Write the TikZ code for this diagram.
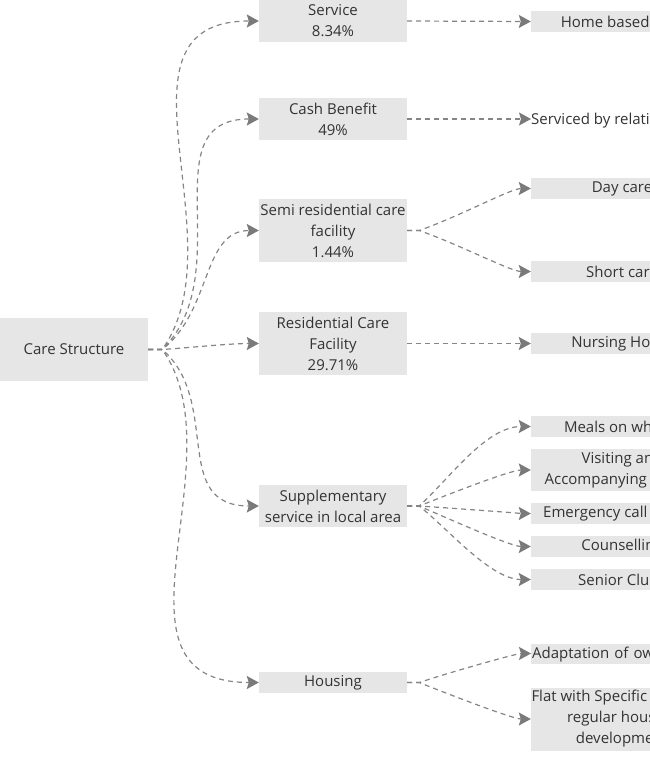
\documentclass[tikz,border=0pt]{standalone}
\usepackage{fontspec}
\setmainfont{Open Sans}
\usetikzlibrary{arrows.meta}
\definecolor{boxgray}{HTML}{E6E6E6}
\definecolor{linkgray}{HTML}{858585}
\definecolor{tipgray}{HTML}{7A7A7A}
\definecolor{inkgray}{HTML}{333333}
\tikzset{>={Stealth[length=12pt,width=13pt,inset=2pt,color=tipgray]}}

\begin{document}
\begin{tikzpicture}[x=1pt,y=-1pt,
bare/.style = {
    text=inkgray, inner sep=0pt, align=center,
    font=\fontsize{15}{21}\selectfont,
                },
box/.style = {
    bare, fill=boxgray, minimum width=148pt,
                },
leaf/.style = {
    box, minimum width=182pt,
                },
link/.style = {
    ->, draw=linkgray, line width=1.2pt,
    dash pattern=on 5pt off 4pt,
                },
                    ]
\useasboundingbox (0,0) rectangle (650,771);
\clip (0,0) rectangle (650,771);
% root
\node (root) [box, minimum height=63pt] at (74,349.5) {Care Structure};
% first level
\node (svc)  [box, minimum height=42pt] at (333,21)    {Service\\8.34\%};
\node (cash) [box, minimum height=42pt] at (333,119)   {Cash Benefit\\49\%};
\node (semi) [box, minimum height=63pt] at (333,230.5) {Semi residential care\\facility\\1.44\%};
\node (resi) [box, minimum height=63pt] at (333,343.5) {Residential Care\\Facility\\29.71\%};
\node (supp) [box, minimum height=42pt] at (333,506)   {Supplementary\\service in local area};
\node (hous) [box, minimum height=21pt] at (333,682.5) {Housing};
% second level
\node (home)  [leaf, minimum height=21pt] at (622,21.5)  {Home based care};
\node (relat) [bare, anchor=west, text height=12pt, text depth=1.5pt]
              at (531,119) {Serviced by relatives};
\node (day)   [leaf, minimum height=21pt] at (622,188.5) {Day care};
\node (short) [leaf, minimum height=21pt] at (622,271.5) {Short care};
\node (nurse) [leaf, minimum height=21pt] at (622,343.5) {Nursing Home};
\node (meals) [leaf, minimum height=21pt] at (622,426.5) {Meals on wheels};
\node (visit) [leaf, minimum height=42pt] at (622,470)   {Visiting and\\Accompanying service};
\node (emerg) [leaf, minimum height=21pt] at (622,513.5) {Emergency call system};
\node (couns) [leaf, minimum height=21pt] at (622,546.5) {Counselling};
\node (club)  [leaf, minimum height=21pt] at (622,579.5) {Senior Clubs};
\node (adapt) [box, anchor=west, minimum height=20pt, inner xsep=1pt,
               text height=12pt, text depth=1.5pt,
               text width=182pt, align=left] at (531,653.5) {Adaptation of own home};
\node (flat)  [leaf, minimum height=63pt] at (622,719)
              {Flat with Specific Needs in\\regular housing\\development};
% root links
\draw[link] (root.east) -- ++(14,0) .. controls +(78,-109) and +(-159,0) .. (svc.west);
\draw[link] (root.east) -- ++(14,0) .. controls +(78,-76) and +(-110,0) .. (cash.west);
\draw[link] (root.east) -- ++(14,0) .. controls +(50,-39) and +(-57,0) .. (semi.west);
\draw[link] (root.east) -- ++(14,0) .. controls +(30,-2) and +(-30,0) .. (resi.west);
\draw[link] (root.east) -- ++(14,0) .. controls +(60,52) and +(-89,0) .. (supp.west);
\draw[link] (root.east) -- ++(14,0) .. controls +(78,109) and +(-165,0) .. (hous.west);
% first level links
\draw[link] (svc.east)  -- (home.west);
\draw[link] (cash.east) -- (relat.west);
\draw[link] (semi.east) -- ++(12,0) .. controls +(40,-14) and +(-20,0) .. (day.west);
\draw[link] (semi.east) -- ++(12,0) .. controls +(40,14) and +(-20,0) .. (short.west);
\draw[link] (resi.east) -- (nurse.west);
\draw[link] (supp.east) -- ++(12,0) .. controls +(30,-27) and +(-45,0) .. (meals.west);
\draw[link] (supp.east) -- ++(12,0) .. controls +(30,-12) and +(-20,0) .. (visit.west);
\draw[link] (supp.east) -- ++(12,0) .. controls +(30,2) and +(-6,0) .. (emerg.west);
\draw[link] (supp.east) -- ++(12,0) .. controls +(30,13) and +(-20,0) .. (couns.west);
\draw[link] (supp.east) -- ++(12,0) .. controls +(30,24) and +(-40,0) .. (club.west);
\draw[link] (hous.east) -- ++(12,0) .. controls +(30,-10) and +(-15,0) .. (adapt.west);
\draw[link] (hous.east) -- ++(12,0) .. controls +(30,12) and +(-18,0) .. (flat.west);
\end{tikzpicture}
\end{document}
